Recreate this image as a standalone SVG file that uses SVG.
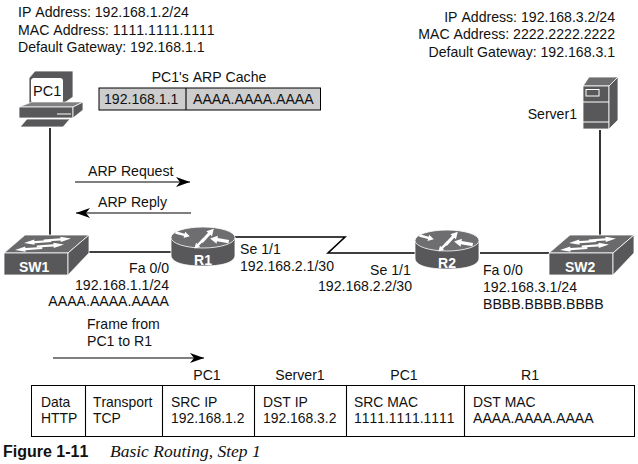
<svg xmlns="http://www.w3.org/2000/svg" width="638" height="464" viewBox="0 0 638 464">
<defs>
<style>
text{font-family:"Liberation Sans",Arial,sans-serif;font-size:14.100px;fill:#111;font-kerning:none}
.i{font-size:14.100px}
.f{font-size:13.900px}
.w{fill:#fff;font-size:14px;font-weight:700}
.e{text-anchor:end}.m{text-anchor:middle}
.line{stroke:#000;stroke-width:1.6;fill:none}
.thin{stroke:#000;stroke-width:1.1;fill:none}
.d{fill:#58585a;stroke:#fff;stroke-width:.8;stroke-linejoin:round}
.cell{fill:#fff;stroke:#000;stroke-width:1}
</style>
<marker id="ah" markerWidth="14" markerHeight="12" refX="14" refY="6" orient="auto" markerUnits="userSpaceOnUse"><path d="M0 1L14 6L0 11L4 6Z" fill="#000"/></marker>
<path id="rarrow" d="M-11 -1.800H2V-4.500L10 0L2 4.500V1.800H-11Z" fill="#fff"/>
<g id="router">
<path class="d" d="M0 10.500V28C0 36 14 39 32 39S64 36 64 28V10.500Z"/>
<ellipse cx="32" cy="10.500" rx="32" ry="10.500" fill="#6e6e70" stroke="#fff" stroke-width=".8"/>
<use href="#rarrow" transform="translate(12 7.500) rotate(15) scale(.7)"/>
<use href="#rarrow" transform="translate(37 8) rotate(-47) scale(.85)"/>
<use href="#rarrow" transform="translate(48 13) rotate(190) scale(.9)"/>
<use href="#rarrow" transform="translate(28 17) rotate(135) scale(.65)"/>
</g>
<g id="switch">
<path d="M0 18L21 0H85L64 18Z" fill="#6a6a6c" stroke="#fff" stroke-width=".8"/>
<path class="d" d="M0 18H64V40H0Z"/>
<path class="d" d="M64 18L85 0V18L64 40Z"/>
<use href="#rarrow" transform="translate(54 4.500) rotate(-4) scale(1.300 .6)"/>
<use href="#rarrow" transform="translate(33 7) rotate(176) scale(1.300 .6)"/>
<use href="#rarrow" transform="translate(47 10.500) rotate(-4) scale(1.300 .6)"/>
<use href="#rarrow" transform="translate(24 14) rotate(176) scale(1.300 .6)"/>
</g>
</defs>
<g id="connectors">
<path class="line" d="M50 128V236"/>
<path class="line" d="M89 252H172"/>
<path class="line" d="M234 237H345L328 253H415"/>
<path class="line" d="M480 253H550"/>
<path class="line" d="M600 130V236"/>
<path class="thin" d="M75 182H190" marker-end="url(#ah)"/>
<path class="thin" d="M191 213H76" marker-end="url(#ah)"/>
<path class="thin" d="M53 358H204" marker-end="url(#ah)"/>
</g>
<g id="pc1-info">
<text class="i" x="18" y="17">IP Address: 192.168.1.2/24</text>
<text class="i" x="18" y="35">MAC Address: 1111.1111.1111</text>
<text class="i" x="18" y="52">Default Gateway: 192.168.1.1</text>
</g>
<g id="server-info">
<text class="i e" x="615" y="22">IP Address: 192.168.3.2/24</text>
<text class="i e" x="615" y="39">MAC Address: 2222.2222.2222</text>
<text class="i e" x="615" y="57">Default Gateway: 192.168.3.1</text>
</g>
<g id="PC1">
<path d="M29 78L35 71H73V97L63 104H29Z" fill="#58585a" stroke="#fff" stroke-width=".8"/>
<rect x="31" y="78" width="32" height="25" rx="3" fill="#fff"/>
<path d="M19 107L32 102H83L73 107Z" fill="#808082" stroke="#fff" stroke-width=".6"/>
<path class="d" d="M19 107H73V118H19Z"/>
<path class="d" d="M73 107L83 102V110L73 118Z"/>
<path d="M57 114H71" stroke="#fff"/>
<path class="d" d="M27 119H70L63 127H20Z"/>
<text x="33" y="96" style="font-size:14.500px">PC1</text>
</g>
<g id="arp-cache">
<text class="m" x="209" y="82">PC1's ARP Cache</text>
<rect x="99" y="88" width="221.500" height="22" fill="#cdcdcd" stroke="#000"/>
<path class="thin" d="M186 88V110"/>
<text x="104" y="104">192.168.1.1</text>
<text x="193" y="104">AAAA.AAAA.AAAA</text>
</g>
<text x="88" y="176">ARP Request</text>
<text x="98" y="207">ARP Reply</text>
<g id="Server1">
<path d="M583 86L589 77H618L609 86Z" fill="#6e6e70" stroke="#fff" stroke-width=".8"/>
<path class="d" d="M583 86H609V129H583Z"/>
<path class="d" d="M609 86L618 77V120L609 129Z"/>
<rect x="586" y="89.500" width="13" height="6.500" fill="none" stroke="#fff"/>
<path d="M583 102H609M583 122H609" stroke="#fff"/>
<text class="e" x="577" y="119">Server1</text>
</g>
<g id="SW1"><use href="#switch" transform="translate(4 235)"/><text class="w" x="19" y="272">SW1</text></g>
<g id="R1"><use href="#router" transform="translate(171 227)"/><text class="w m" x="203" y="265">R1</text></g>
<g id="R2"><use href="#router" transform="translate(415 230)"/><text class="w m" x="447" y="268">R2</text></g>
<g id="SW2"><use href="#switch" transform="translate(549 235)"/><text class="w" x="565" y="272">SW2</text></g>
<g id="labels">
<text class="e" x="169" y="273">Fa 0/0</text>
<text class="e" x="169" y="290">192.168.1.1/24</text>
<text class="e" x="169" y="306">AAAA.AAAA.AAAA</text>
<text x="240" y="254">Se 1/1</text>
<text x="240" y="271">192.168.2.1/30</text>
<text x="370" y="275">Se 1/1</text>
<text x="318" y="291">192.168.2.2/30</text>
<text x="483" y="275">Fa 0/0</text>
<text x="483" y="292">192.168.3.1/24</text>
<text x="483" y="309">BBBB.BBBB.BBBB</text>
<text x="87" y="329">Frame from</text>
<text x="87" y="346">PC1 to R1</text>
</g>
<g id="frame">
<rect class="cell" x="31.500" y="385.500" width="603" height="51"/>
<path class="thin" d="M85.500 386V436M162.500 386V436M254.500 386V436M346.500 386V436M464.500 386V436"/>
<text class="m" x="207" y="380">PC1</text><text class="m" x="300" y="380">Server1</text><text class="m" x="404" y="380">PC1</text><text class="m" x="530" y="380">R1</text>
<text class="f" x="41" y="407">Data</text><text class="f" x="41" y="423">HTTP</text>
<text class="f" x="93" y="407">Transport</text><text class="f" x="93" y="423">TCP</text>
<text class="f" x="171" y="407">SRC IP</text><text class="f" x="171" y="423">192.168.1.2</text>
<text class="f" x="263" y="407">DST IP</text><text class="f" x="263" y="423">192.168.3.2</text>
<text class="f" x="354" y="407">SRC MAC</text><text class="f" x="354" y="423">1111.1111.1111</text>
<text class="f" x="473" y="407">DST MAC</text><text x="473" y="423">AAAA.AAAA.AAAA</text>
</g>
<g id="caption">
<text x="3" y="457" style="font-weight:700;font-size:16px">Figure 1-11</text>
<text x="110" y="457" style="font-family:'Liberation Serif',serif;font-style:italic;font-size:17.500px">Basic Routing, Step 1</text>
</g>
</svg>
